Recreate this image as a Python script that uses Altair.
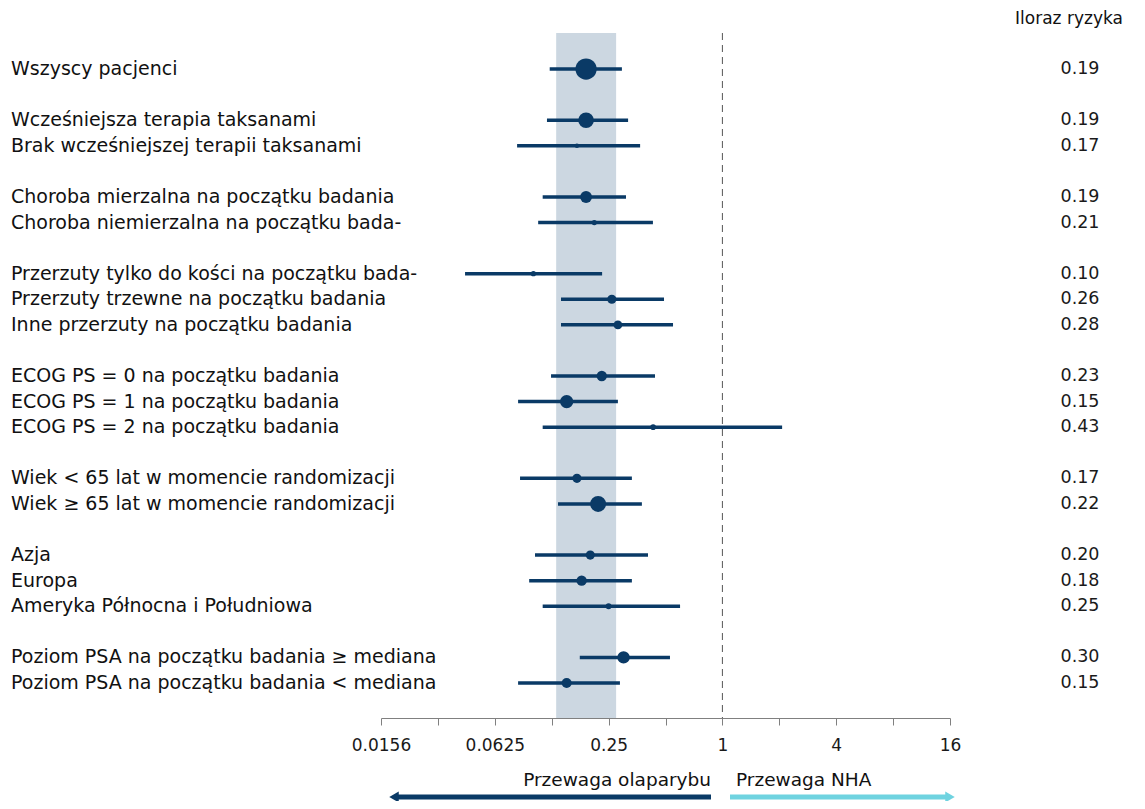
import altair as alt
import pandas as pd

labels = [
    "Wszyscy pacjenci",
    "Wcześniejsza terapia taksanami",
    "Brak wcześniejszej terapii taksanami",
    "Choroba mierzalna na początku badania",
    "Choroba niemierzalna na początku bada-",
    "Przerzuty tylko do kości na początku bada-",
    "Przerzuty trzewne na początku badania",
    "Inne przerzuty na początku badania",
    "ECOG PS = 0 na początku badania",
    "ECOG PS = 1 na początku badania",
    "ECOG PS = 2 na początku badania",
    "Wiek < 65 lat w momencie randomizacji",
    "Wiek ≥ 65 lat w momencie randomizacji",
    "Azja",
    "Europa",
    "Ameryka Północna i Południowa",
    "Poziom PSA na początku badania ≥ mediana",
    "Poziom PSA na początku badania < mediana",
]
groups = [1, 2, 2, 3, 3, 4, 4, 4, 5, 5, 5, 6, 6, 7, 7, 7, 8, 8]
hr = [0.19, 0.19, 0.17, 0.19, 0.21, 0.10, 0.26, 0.28, 0.23, 0.15, 0.43,
      0.17, 0.22, 0.20, 0.18, 0.25, 0.30, 0.15]
ci_low = [0.122, 0.118, 0.082, 0.112, 0.106, 0.0435, 0.140, 0.140, 0.124, 0.083,
          0.112, 0.085, 0.135, 0.102, 0.095, 0.112, 0.176, 0.083]
ci_high = [0.294, 0.317, 0.367, 0.309, 0.429, 0.231, 0.491, 0.548, 0.440, 0.280,
           2.07, 0.332, 0.375, 0.404, 0.332, 0.597, 0.528, 0.287]
weight = [452, 245, 20, 140, 28, 28, 84, 79, 107, 177, 32, 84, 254, 84, 107, 35, 154, 100]

band = [0.132, 0.274]
reference_value = 1
tick_values = [2.0 ** k for k in range(-6, 5)]
tick_labels = ["0.0156", "", "0.0625", "", "0.25", "", "1", "", "4", "", "16"]
header = "Iloraz ryzyka"
favour_left = "Przewaga olaparybu"
favour_right = "Przewaga NHA"

NAVY = "#0a3a66"
CYAN = "#6fd3e0"
BAND = "#ccd7e1"
LABEL_FONT = "DejaVu Sans"
NUM_FONT = "DejaVu Sans"

W, H = 569, 685

# row index: one blank row between groups (derived from the group list)
rows = []
r = -1
prev = None
for g in groups:
    r += 2 if (prev is not None and g != prev) else 1
    rows.append(r)
    prev = g

df = pd.DataFrame({"label": labels, "row": rows, "hr": hr, "lo": ci_low,
                   "hi": ci_high, "w": weight})

xscale = alt.Scale(type="log", base=2, domain=[tick_values[0], tick_values[-1]], nice=False)
yscale = alt.Scale(domain=[-1.41, rows[-1] + 1.37], reverse=True, nice=False, zero=False)

label_expr = "[" + ",".join("'%s'" % t for t in tick_labels) + "][indexof([" + \
    ",".join(repr(v) for v in tick_values) + "], datum.value)]"

xaxis = alt.Axis(
    values=tick_values, labelExpr=label_expr, title=None, grid=False,
    labelFont=NUM_FONT, labelFontSize=17, labelColor="#1a1a1a", labelFlush=False,
    labelOverlap=False, labelPadding=12, tickSize=7, tickColor="#808080",
    domainColor="#808080", tickWidth=1, domainWidth=1,
)

band_layer = alt.Chart(pd.DataFrame({"a": [band[0]], "b": [band[1]]})).mark_rect(
    color=BAND
).encode(x=alt.X("a:Q", scale=xscale, axis=xaxis), x2="b:Q")

ref_layer = alt.Chart(pd.DataFrame({"v": [reference_value]})).mark_rule(
    color="#555555", strokeDash=[7, 5], strokeWidth=1
).encode(x=alt.X("v:Q", scale=xscale))

base = alt.Chart(df)
y_enc = alt.Y("row:Q", scale=yscale, axis=None)

ci_layer = base.mark_rule(color=NAVY, strokeWidth=3.5).encode(
    x=alt.X("lo:Q", scale=xscale), x2="hi:Q", y=y_enc
)
pt_layer = base.mark_circle(color=NAVY, opacity=1).encode(
    x=alt.X("hr:Q", scale=xscale), y=y_enc, size=alt.Size("w:Q", scale=None, legend=None)
)
lab_layer = base.mark_text(
    align="left", baseline="middle", font=LABEL_FONT, fontSize=19, color="#111111"
).encode(x=alt.value(-370), y=y_enc, text="label:N")
hr_layer = base.mark_text(
    align="center", baseline="middle", font=NUM_FONT, fontSize=17.5, color="#1a1a1a"
).encode(x=alt.value(699), y=y_enc, text=alt.Text("hr:Q", format=".2f"))

head_layer = alt.Chart(pd.DataFrame({"t": [header]})).mark_text(
    align="center", baseline="middle", font=LABEL_FONT, fontSize=17, color="#111111"
).encode(x=alt.value(688), y=alt.value(-14), text="t:N")

fav_df = pd.DataFrame({"t": [favour_left]})
fav_l = alt.Chart(fav_df).mark_text(
    align="right", baseline="middle", font=LABEL_FONT, fontSize=18.5, color="#111111"
).encode(x=alt.value(330), y=alt.value(747), text="t:N")
fav_r = alt.Chart(pd.DataFrame({"t": [favour_right]})).mark_text(
    align="left", baseline="middle", font=LABEL_FONT, fontSize=18.5, color="#111111"
).encode(x=alt.value(355), y=alt.value(747), text="t:N")

arrow_l = alt.Chart(fav_df).mark_rule(color=NAVY, strokeWidth=5).encode(
    x=alt.value(16), x2=alt.value(330), y=alt.value(764)
)
head_l = alt.Chart(fav_df).mark_point(shape="triangle-left", filled=True, color=NAVY,
                                      size=120, opacity=1).encode(
    x=alt.value(13), y=alt.value(764)
)
arrow_r = alt.Chart(fav_df).mark_rule(color=CYAN, strokeWidth=5).encode(
    x=alt.value(349), x2=alt.value(565), y=alt.value(764)
)
head_r = alt.Chart(fav_df).mark_point(shape="triangle-right", filled=True, color=CYAN,
                                      size=120, opacity=1).encode(
    x=alt.value(569), y=alt.value(764)
)

chart = alt.layer(
    band_layer, ref_layer, ci_layer, pt_layer, lab_layer, hr_layer, head_layer,
    fav_l, fav_r, arrow_l, head_l, arrow_r, head_r
).properties(
    width=W, height=H,
    autosize=alt.AutoSizeParams(type="none"),
    padding={"left": 373, "top": 25, "right": 187, "bottom": 83},
    background="white",
).configure_view(stroke=None)

chart.save("out.html", embed_options={"renderer": "svg", "actions": False})
